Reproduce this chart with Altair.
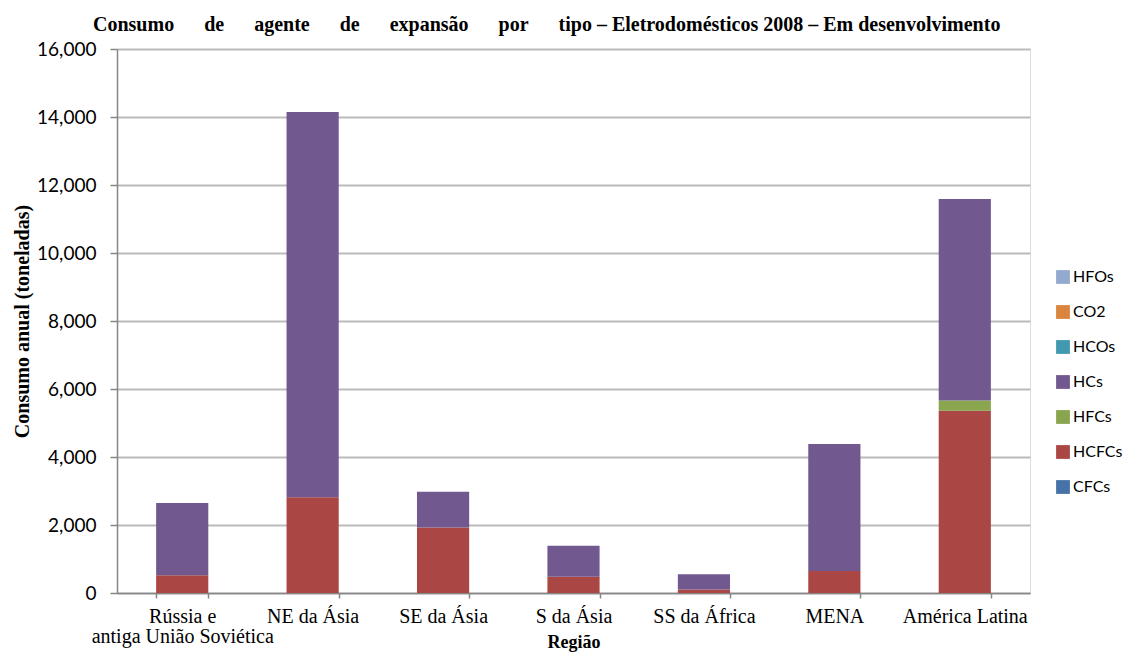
import altair as alt
import pandas as pd

regions = ["Rússia e|antiga União Soviética", "NE da Ásia", "SE da Ásia", "S da Ásia",
           "SS da África", "MENA", "América Latina"]
# stack order, bottom to top
stack_types = ["CFCs", "HCFCs", "HFCs", "HCs", "HCOs", "CO2", "HFOs"]
cfcs = [0, 0, 0, 0, 0, 0, 0]
hcfcs = [520, 2815, 1930, 480, 100, 650, 5360]
hfcs = [0, 0, 0, 0, 0, 0, 300]
hcs = [2130, 11335, 1050, 910, 450, 3730, 5930]
hcos = [0, 0, 0, 0, 0, 0, 0]
co2 = [0, 0, 0, 0, 0, 0, 0]
hfos = [0, 0, 0, 0, 0, 0, 0]
series = [cfcs, hcfcs, hfcs, hcs, hcos, co2, hfos]
type_colors = ["#4572A7", "#AA4643", "#89A54E", "#71588F", "#4198AF", "#DB843D", "#93A9CF"]
y_ticks = [0, 2000, 4000, 6000, 8000, 10000, 12000, 14000, 16000]

rows = []
for k, (t, vals) in enumerate(zip(stack_types, series)):
    for r, v in zip(regions, vals):
        rows.append({"Região": r, "tipo": t, "valor": v, "ordem": k})
df = pd.DataFrame(rows)

legend_order = list(reversed(stack_types))
legend_colors = list(reversed(type_colors))

gap = "\u00a0" * 6
title_txt = (f"Consumo{gap}de{gap}agente{gap}de{gap}expansão{gap}por{gap}tipo"
             " – Eletrodomésticos 2008 – Em desenvolvimento")

chart = alt.Chart(df).mark_bar().encode(
    x=alt.X("Região:N", sort=regions,
            scale=alt.Scale(paddingInner=0.6, paddingOuter=0.3),
            axis=alt.Axis(title="Região", labelAngle=0,
                          labelExpr="split(datum.label, '|')",
                          tickBand="extent", labelLineHeight=20, labelLimit=400,
                          labelFont="Liberation Serif", labelFontSize=20,
                          labelColor="#000000", labelPadding=8,
                          titleFont="Liberation Serif", titleFontSize=18,
                          titleFontWeight="bold", titleColor="#000000",
                          titleBaseline="alphabetic", titleY=54,
                          domainColor="#868686", domainWidth=1.5,
                          tickColor="#868686", tickWidth=1.5, tickSize=5)),
    y=alt.Y("valor:Q", stack="zero",
            scale=alt.Scale(domain=[0, 16000], nice=False),
            axis=alt.Axis(title="Consumo anual (toneladas)", values=y_ticks,
                          format=",.0f",
                          labelFont="Lato", labelFontSize=19, labelColor="#000000",
                          labelPadding=14,
                          titleFont="Liberation Serif", titleFontSize=20,
                          titleFontWeight="bold", titleColor="#000000",
                          titlePadding=4,
                          domainColor="#868686", domainWidth=1.5,
                          tickColor="#868686", tickWidth=1.5, tickSize=7,
                          gridColor="#BBBBBB", gridWidth=1.8)),
    color=alt.Color("tipo:N",
                    scale=alt.Scale(domain=legend_order, range=legend_colors),
                    legend=alt.Legend(title=None, orient="none", legendX=938, legendY=220,
                                      padding=0,
                                      symbolType="square", symbolSize=190,
                                      symbolStrokeWidth=0,
                                      labelFont="Lato", labelFontSize=16,
                                      labelColor="#000000", rowPadding=19,
                                      labelOffset=2, labelLimit=200)),
    order=alt.Order("ordem:Q", sort="ascending"),
).properties(
    width=913, height=544,
    title=alt.TitleParams(text=title_txt, anchor="start", frame="group", dx=-24, offset=5,
                          font="Liberation Serif", fontSize=20, fontWeight="bold",
                          color="#000000"),
    autosize=alt.AutoSizeParams(type="none"),
    padding={"left": 109, "top": 41, "right": 93, "bottom": 59},
).configure_view(stroke=None).configure(background="white")

chart.save("out.html", embed_options={"renderer": "svg", "actions": False})
